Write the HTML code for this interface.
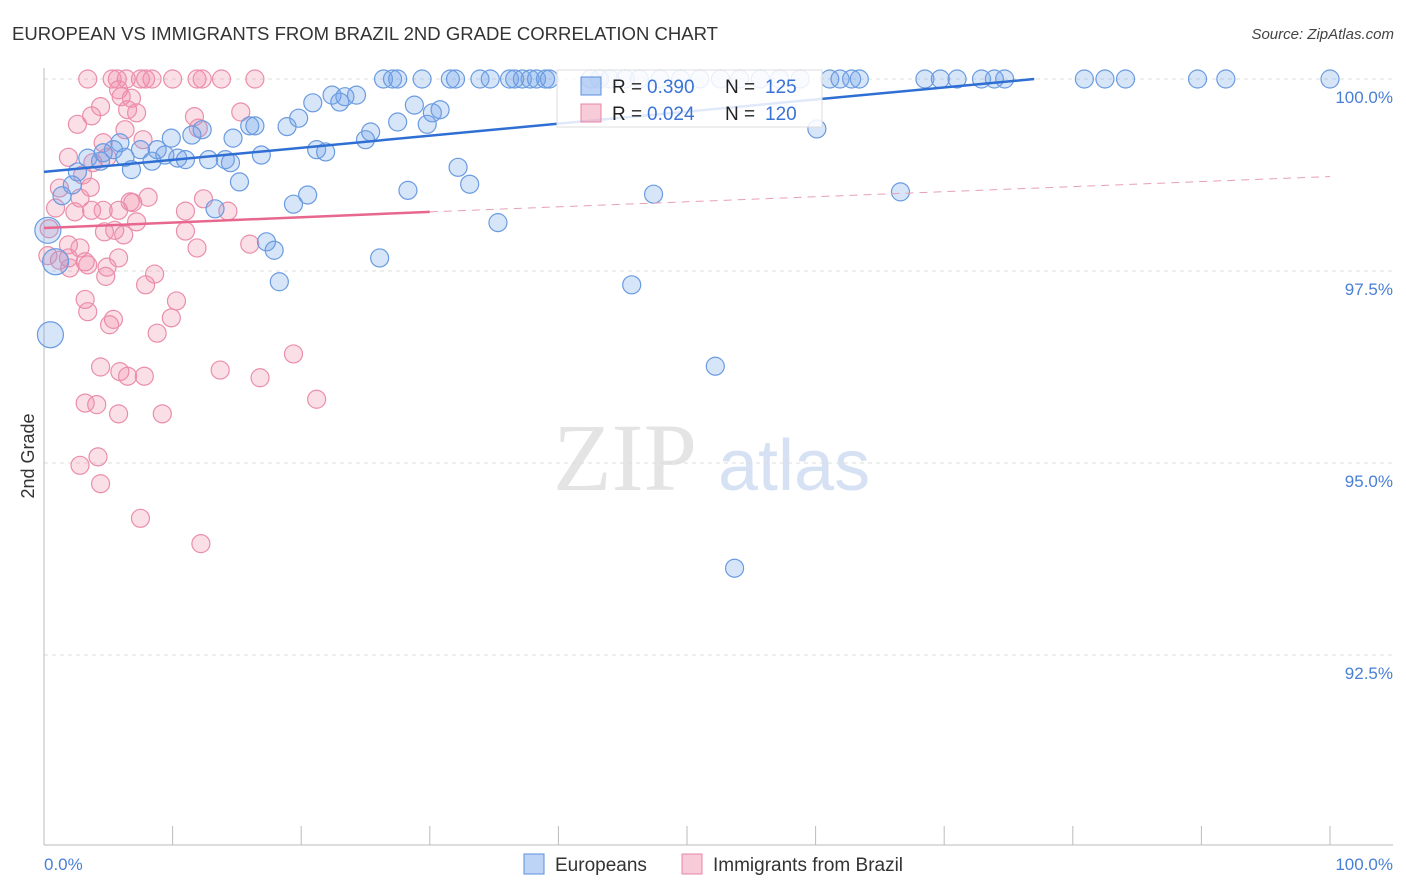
<!DOCTYPE html>
<html><head><meta charset="utf-8"><style>
body{margin:0;background:#fff;font-family:"Liberation Sans",sans-serif;}
#wrap{position:relative;width:1406px;height:892px;overflow:hidden;}
</style></head><body>
<div id="wrap">
<svg id="svg" width="1406" height="892"></svg>
</div>
<script>
const xTicksPct=[0,10,20,30,40,50,60,70,80,90,100];
const yTickVals=[100,97.5,95,92.5];
const yTickLabels=["100.0%","97.5%","95.0%","92.5%"];
const blueTopX=[26.4,27.1,27.5,29.4,31.6,32.0,33.9,34.7,36.2,36.6,37.2,37.8,38.3,39.0,39.3,42.5,43.2,44.0,45.2,46.3,47.9,49.5,51.0,52.6,54.1,55.7,57.2,58.8,61.1,61.9,62.8,63.4,68.5,69.7,71.0,72.9,73.9,74.7,80.9,82.5,84.1,89.7,91.9,100];
const blueX=[22.4,23.4,24.3,23.0,20.9,19.8,18.9,16.0,16.4,12.3,11.5,9.9,14.7,5.9,25.4,25.0,27.5,28.8,30.2,30.8,29.8,5.4,7.5,8.8,9.4,10.4,11.0,12.8,14.1,14.5,16.9,21.2,21.9,8.4,6.3,3.4,4.4,4.6,6.8,2.6,2.2,1.4,15.2,32.2,33.1,28.3,20.5,19.4,13.3,35.3,47.4,66.6,60.1,17.3,17.9,26.1,18.3,45.7,52.2,53.7];
const blueY=[99.79,99.77,99.79,99.70,99.69,99.49,99.38,99.39,99.39,99.34,99.27,99.23,99.23,99.17,99.31,99.21,99.44,99.66,99.56,99.60,99.41,99.08,99.08,99.08,99.01,98.97,98.95,98.95,98.95,98.91,99.01,99.08,99.05,98.93,98.98,98.97,98.93,99.04,98.82,98.79,98.62,98.48,98.66,98.85,98.63,98.55,98.49,98.37,98.31,98.13,98.50,98.53,99.35,97.88,97.77,97.67,97.36,97.32,96.26,93.63];
const blueBigX=[0.5,0.9,0.3];
const blueBigY=[96.67,97.62,98.03];
const pinkTopX=[3.4,5.3,5.7,6.4,7.5,7.9,8.4,10.0,11.9,12.3,13.8,16.4];
const pinkX=[5.8,6.0,6.8,6.5,7.2,4.4,3.7,2.6,11.7,15.3,6.3,7.7,4.6,12.0,1.9,4.9,3.8,3.0,3.6,1.2,2.8,0.9,2.4,3.7,4.6,5.8,6.7,6.9,8.1,11.0,12.4,14.3,7.2,5.5,4.7,6.2,11.0,11.9,16.0,1.9,2.8,1.2,1.9,3.2,3.4,2.0,5.8,4.9,4.8,8.6,7.9,3.2,10.3,3.4,9.9,5.1,5.4,8.8,19.4,4.4,5.9,6.5,7.8,13.7,16.8,3.2,4.1,5.8,9.2,21.2,2.8,4.2,4.4,7.5,12.2,0.4,0.3];
const pinkY=[99.86,99.77,99.75,99.60,99.56,99.64,99.52,99.41,99.51,99.57,99.34,99.21,99.17,99.36,98.98,98.98,98.91,98.75,98.59,98.58,98.45,98.32,98.27,98.29,98.29,98.29,98.40,98.39,98.46,98.28,98.44,98.28,98.14,98.03,98.01,97.97,98.02,97.80,97.85,97.84,97.80,97.64,97.67,97.62,97.58,97.54,97.67,97.55,97.43,97.46,97.32,97.13,97.11,96.97,96.89,96.80,96.87,96.69,96.42,96.25,96.19,96.13,96.13,96.21,96.11,95.78,95.76,95.64,95.64,95.83,94.97,95.08,94.73,94.28,93.95,98.05,97.70];
const blueTrend=[[0,98.79],[77,100]];
const pinkTrend=[[0,98.06],[30,98.27],[100,98.73]];

const NS="http://www.w3.org/2000/svg";
const svg=document.getElementById('svg');
const X=p=>44+p*12.86;
const Y=v=>79+(100-v)*76.8;
function mk(t,a,p){const e=document.createElementNS(NS,t);for(const k in a)e.setAttribute(k,a[k]);(p||svg).appendChild(e);return e;}

let t=mk('text',{x:12,y:40,'font-size':18,fill:'#333',textLength:706,lengthAdjust:'spacingAndGlyphs'});t.textContent="EUROPEAN VS IMMIGRANTS FROM BRAZIL 2ND GRADE CORRELATION CHART";

t=mk('text',{x:1394,y:39,'font-size':15,fill:'#444','text-anchor':'end','font-style':'italic'});t.textContent="Source: ZipAtlas.com";


t=mk('text',{x:553,y:490,'font-size':96,fill:'#e4e4e4','font-family':'Liberation Serif, serif'});t.textContent="ZIP";

t=mk('text',{x:718,y:490,'font-size':72,fill:'#d6e2f3'});t.textContent="atlas";


yTickVals.forEach((v,i)=>{
 const g=mk('line',{x1:44,x2:1393,y1:Y(v),y2:Y(v),stroke:'#ddd','stroke-dasharray':'4,4'});
 
 const l=mk('text',{x:1393,y:Y(v)+24,'font-size':17,fill:'#4a7fd6','text-anchor':'end'});l.textContent=yTickLabels[i];
 
});
let a=mk('line',{x1:44,x2:44,y1:68,y2:845,stroke:'#bbb'});
a=mk('line',{x1:44,x2:1393,y1:845,y2:845,stroke:'#bbb'});
xTicksPct.forEach(p=>{const k=mk('line',{x1:X(p),x2:X(p),y1:826,y2:845,stroke:'#bbb'});});
t=mk('text',{x:44,y:870,'font-size':17,fill:'#4a7fd6'});t.textContent="0.0%";
t=mk('text',{x:1393,y:870,'font-size':17,fill:'#4a7fd6','text-anchor':'end'});t.textContent="100.0%";
t=mk('text',{x:34,y:456,'font-size':18,fill:'#333','text-anchor':'middle',transform:'rotate(-90 34 456)'});t.textContent="2nd Grade";


function dot(x,y,r,c,name){
 const e=mk('circle',{cx:X(x),cy:Y(y),r:r,fill:c[0],stroke:c[1],'stroke-width':1.2});
 
 
}
const BC=['rgba(110,160,235,0.28)','#6a9be0'],PC=['rgba(240,140,170,0.28)','#ea8eab'];
pinkTopX.forEach(x=>dot(x,100,9,PC,'pink-point'));
pinkX.forEach((x,i)=>dot(x,pinkY[i],9,PC,'pink-point'));
blueTopX.forEach(x=>dot(x,100,9,BC,'blue-point'));
blueX.forEach((x,i)=>dot(x,blueY[i],9,BC,'blue-point'));
blueBigX.forEach((x,i)=>dot(x,blueBigY[i],13,BC,'blue-point-large'));

let ln=mk('line',{x1:X(blueTrend[0][0]),y1:Y(blueTrend[0][1]),x2:X(blueTrend[1][0]),y2:Y(blueTrend[1][1]),stroke:'#2f6fd4','stroke-width':2.5});

ln=mk('line',{x1:X(pinkTrend[0][0]),y1:Y(pinkTrend[0][1]),x2:X(pinkTrend[1][0]),y2:Y(pinkTrend[1][1]),stroke:'#e8678f','stroke-width':2.5});

ln=mk('line',{x1:X(pinkTrend[1][0]),y1:Y(pinkTrend[1][1]),x2:X(pinkTrend[2][0]),y2:Y(pinkTrend[2][1]),stroke:'#e8a0b6','stroke-width':1,'stroke-dasharray':'8,6'});


let g=mk('g',{});
mk('rect',{x:557,y:70,width:265,height:57,fill:'rgba(255,255,255,0.85)',stroke:'#ddd'},g);
mk('rect',{x:581,y:77,width:20,height:18,fill:'rgba(110,160,235,0.45)',stroke:'#5b8fdc'},g);
mk('rect',{x:581,y:104,width:20,height:18,fill:'rgba(240,140,170,0.45)',stroke:'#e985a6'},g);
function tx(x,y,s,c){const e=mk('text',{x:x,y:y,'font-size':19,fill:c},g);e.textContent=s;}
tx(612,93,"R =","#222");tx(647,93,"0.390","#3a73d6");tx(725,93,"N =","#222");tx(765,93,"125","#3a73d6");
tx(612,120,"R =","#222");tx(647,120,"0.024","#3a73d6");tx(725,120,"N =","#222");tx(765,120,"120","#3a73d6");

g=mk('g',{});
mk('rect',{x:524,y:854,width:20,height:20,fill:'rgba(110,160,235,0.45)',stroke:'#5b8fdc'},g);
t=mk('text',{x:555,y:871,'font-size':19,fill:'#333'},g);t.textContent="Europeans";
mk('rect',{x:682,y:854,width:20,height:20,fill:'rgba(240,140,170,0.45)',stroke:'#e985a6'},g);
t=mk('text',{x:713,y:871,'font-size':19,fill:'#333'},g);t.textContent="Immigrants from Brazil";
</script>
</body></html>
